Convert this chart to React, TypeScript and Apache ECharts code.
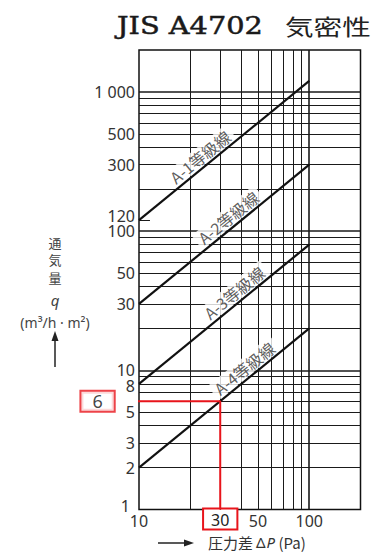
import React, { useEffect, useRef } from 'react';
import * as echarts from 'echarts';

// ---- data ----
const pressureEnds = [10, 100];
const gradeNames = ['A-1等級線', 'A-2等級線', 'A-3等級線', 'A-4等級線'];
const gradeA1 = [120, 1200];
const gradeA2 = [30, 300];
const gradeA3 = [8, 80];
const gradeA4 = [2, 20];
const gradeLabelX = [22.8, 33.4, 36.2, 41.5];
const xTickLabels = [10, 30, 50, 100];
const yTickLabels = [1, 2, 3, 5, 8, 10, 30, 50, 100, 120, 300, 500, 1000];
const xGridValues = [20, 30, 40, 50, 60, 70, 80, 90, 100];
const yGridValues = [2, 3, 4, 5, 6, 7, 8, 9, 10, 20, 30, 40, 50, 60, 70, 80, 90, 100, 200, 300, 400, 500, 600, 700, 800, 900, 1000];
const decadeValues = [10, 100, 1000];
const examplePressure = 30;
const exampleFlow = 6;
const exampleLeftEnd = 7.2;
const exampleBoxX = 5.71;
const yNameChars = ['通', '気', '量'];

const grades = [gradeA1, gradeA2, gradeA3, gradeA4];
const RED = '#e8141b';

function lineValue(g: number[], x: number) {
  const slope = Math.log10(g[1] / g[0]) / Math.log10(pressureEnds[1] / pressureEnds[0]);
  return g[0] * Math.pow(x / pressureEnds[0], slope);
}

const noLine = {
  symbol: ['none', 'none'],
  silent: true,
  label: { show: false },
  emphasis: { disabled: true },
  animation: false,
};

const yLab = { fontSize: 16, fontFamily: 'Noto Sans', color: '#333', lineHeight: 13 };

export default function App() {
  const ref = useRef<HTMLDivElement>(null);
  useEffect(() => {
    if (!ref.current) return;
    const chart = echarts.init(ref.current, undefined, { renderer: 'svg' });
    const option: any = {
      animation: false,
      backgroundColor: '#fff',
      grid: { left: 139, right: 16.5, top: 50, bottom: 42.5, show: true, borderColor: '#111', borderWidth: 1.5, backgroundColor: 'transparent' },
      xAxis: {
        type: 'log', logBase: 10, min: 10, max: 200,
        axisLine: { show: false }, axisTick: { show: false }, splitLine: { show: false }, minorSplitLine: { show: false },
        axisLabel: {
          customValues: xTickLabels,
          margin: 1,
          formatter: (v: number) => (v === examplePressure ? '{box|' + v + '}' : '{n|' + v + '}'),
          rich: {
            n: { fontSize: 16, fontFamily: 'Noto Sans', color: '#333', padding: [4, 6, 1, 6], lineHeight: 17 },
            box: { fontSize: 16, fontFamily: 'Noto Sans', color: '#222', padding: [2, 7, 1, 7], lineHeight: 17, borderColor: RED, borderWidth: 2, backgroundColor: '#fff' },
          },
        },
      },
      yAxis: {
        type: 'log', logBase: 10, min: 1, max: 2000,
        axisLine: { show: false }, axisTick: { show: false }, splitLine: { show: false },
        axisLabel: {
          customValues: yTickLabels,
          margin: 4,
          ...yLab,
          formatter: (v: number) => {
            if (v === 1000) return '1 000';
            if (v === 120) return '{up|120}';
            if (v === 8) return '{down|8}';
            if (v === 1) return '{one|1}';
            return String(v);
          },
          rich: {
            up: { ...yLab, padding: [0, 0, 8, 0] },
            down: { ...yLab, padding: [4, 0, 0, 0] },
            one: { ...yLab, padding: [0, 5, 8, 0] },
          },
        },
      },
      graphic: [
        { type: 'text', x: 117, y: 25, scaleX: 1.2, style: { text: 'JIS A4702', fontSize: 24, fontFamily: 'DejaVu Serif', fontWeight: 'normal', fill: '#1a1a1a', stroke: '#1a1a1a', lineWidth: 0.5, align: 'left', verticalAlign: 'middle' } },
        { type: 'text', x: 285, y: 25, scaleX: 1.3, style: { text: '気密性', fontSize: 22, fontFamily: 'Noto Sans CJK JP', fill: '#222', align: 'left', verticalAlign: 'middle' } },
        ...yNameChars.map((c, i) => ({ type: 'text', x: 55, y: 242 + i * 17.5, style: { text: c, fontSize: 13, fontFamily: 'Noto Sans CJK JP', fill: '#444', align: 'center', verticalAlign: 'middle' } })),
        { type: 'text', x: 55, y: 300, style: { text: 'q', fontSize: 15, fontStyle: 'italic', fontFamily: 'Noto Sans', fill: '#444', align: 'center', verticalAlign: 'middle' } },
        { type: 'text', x: 55, y: 322, style: { text: '(m³/h · m²)', fontSize: 14, fontFamily: 'Noto Sans', fill: '#444', align: 'center', verticalAlign: 'middle' } },
        { type: 'line', shape: { x1: 55, y1: 367, x2: 55, y2: 338 }, style: { stroke: '#222', lineWidth: 1.5 } },
        { type: 'polygon', shape: { points: [[55, 331], [51.5, 341], [58.5, 341]] }, style: { fill: '#222' } },
        { type: 'line', shape: { x1: 158, y1: 543, x2: 186, y2: 543 }, style: { stroke: '#222', lineWidth: 1.5 } },
        { type: 'polygon', shape: { points: [[194, 543], [184, 539.5], [184, 546.5]] }, style: { fill: '#222' } },
        {
          type: 'text', x: 208, y: 542,
          style: {
            text: '{a|圧力差}{d|Δ}{b|P}{a| (Pa)}', align: 'left', verticalAlign: 'middle',
            rich: {
              a: { fontSize: 15, fontFamily: 'Noto Sans CJK JP', fill: '#333', lineHeight: 15 },
              d: { fontSize: 15, fontFamily: 'Noto Sans', fill: '#333', lineHeight: 15, padding: [0, 1, 0, 3] },
              b: { fontSize: 15, fontFamily: 'Noto Sans', fontStyle: 'italic', fill: '#333', lineHeight: 15 },
            },
          },
        },
      ],
      series: [
        {
          type: 'line', data: [], z: 1, silent: true,
          markLine: {
            ...noLine,
            data: [
              ...yGridValues.map((v) => ({ yAxis: v, lineStyle: { color: '#1a1a1a', type: 'solid', width: decadeValues.includes(v) ? 1.6 : 1 } })),
              ...xGridValues.map((v) => ({ xAxis: v, lineStyle: { color: '#1a1a1a', type: 'solid', width: decadeValues.includes(v) ? 1.6 : 1 } })),
              [{ coord: [10, 120], lineStyle: { color: '#1a1a1a', type: 'solid', width: 1 } }, { coord: [11.6, 120] }],
            ],
          },
        },
        {
          type: 'scatter', z: 6, silent: true, symbolSize: 0,
          data: gradeLabelX.map((x, i) => [x, lineValue(grades[i], x) * 1.25]),
          label: {
            show: true, position: 'inside', rotate: 39,
            formatter: (p: any) => gradeNames[p.dataIndex],
            fontSize: 16, fontFamily: 'Noto Sans CJK JP', color: '#333',
            backgroundColor: '#fff', padding: [1, 4],
          },
        },
        ...grades.map((g, i) => ({
          name: gradeNames[i], type: 'line', z: 10, silent: true, showSymbol: false, symbol: 'none',
          data: pressureEnds.map((x, j) => [x, g[j]]),
          lineStyle: { color: '#111', width: 2.2 },
        })),
        {
          type: 'line', z: 12, silent: true, clip: false, showSymbol: false, symbol: 'none',
          data: [[exampleLeftEnd, exampleFlow], [examplePressure, exampleFlow], [examplePressure, 1]],
          lineStyle: { color: RED, width: 2 },
        },
        {
          type: 'scatter', z: 13, silent: true, clip: false, symbolSize: 0,
          data: [[exampleBoxX, exampleFlow]],
          label: {
            show: true, position: 'inside', formatter: String(exampleFlow),
            fontSize: 18, fontFamily: 'Noto Sans', color: '#111', lineHeight: 16,
            padding: [2, 11, 1, 11], borderColor: RED, borderWidth: 2, backgroundColor: '#fff',
          },
        },
      ],
    };
    chart.setOption(option);
    return () => chart.dispose();
  }, []);
  return <div ref={ref} style={{ position: 'absolute', left: 0, top: 0, width: 377, height: 552 }} />;
}
